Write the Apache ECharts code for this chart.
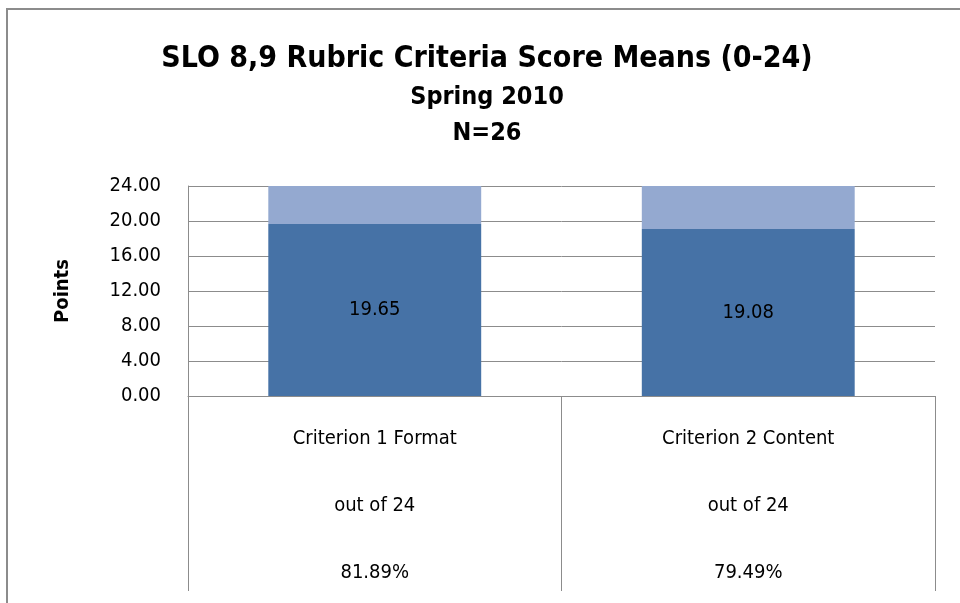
<!DOCTYPE html>
<html>
<head>
<meta charset="utf-8">
<script src="https://cdn.jsdelivr.net/npm/echarts@6/dist/echarts.min.js"></script>
<style>
  html, body { margin: 0; padding: 0; background: #fff; }
  #chart { width: 960px; height: 603px; }
</style>
</head>
<body>
<div id="chart"></div>
<script>
// data
const categories = ['Criterion 1 Format', 'Criterion 2 Content']
const subLabels = ['out of 24', 'out of 24']
const percents = ['81.89%', '79.49%']
const means = [19.65, 19.08]
const remainder = [4.35, 4.92]
const yTicks = [0, 4, 8, 12, 16, 20, 24]

const font = '"Liberation Sans Narrow", "DejaVu Sans Condensed", "Noto Sans", sans-serif'

const chart = echarts.init(document.getElementById('chart'))
chart.setOption({
  animation: false,
  textStyle: { fontFamily: font },
  graphic: [
    {
      type: 'rect',
      shape: { x: 7, y: 9, width: 980, height: 620 },
      style: { fill: 'none', stroke: '#8c8c8c', lineWidth: 2 }
    },
    {
      type: 'text',
      x: 487, y: 59,
      style: {
        text: 'SLO 8,9 Rubric Criteria Score Means (0-24)',
        font: 'bold 30px ' + font,
        fill: '#000',
        align: 'center',
        verticalAlign: 'middle'
      }
    },
    {
      type: 'text',
      x: 487, y: 97,
      style: {
        text: 'Spring 2010',
        font: 'bold 25px ' + font,
        fill: '#000',
        align: 'center',
        verticalAlign: 'middle'
      }
    },
    {
      type: 'text',
      x: 487, y: 133,
      style: {
        text: 'N=26',
        font: 'bold 25px ' + font,
        fill: '#000',
        align: 'center',
        verticalAlign: 'middle'
      }
    }
  ],
  grid: { left: 188, right: 25, top: 186, bottom: 207, outerBoundsMode: 'none', containLabel: false },
  xAxis: {
    type: 'category',
    data: categories,
    axisLine: { lineStyle: { color: '#8c8c8c', width: 1 } },
    axisTick: { show: true, length: 195, interval: 0, lineStyle: { color: '#8c8c8c' } },
    axisLabel: {
      interval: 0,
      margin: 9,
      color: '#000',
      fontSize: 20,
      lineHeight: 67,
      fontFamily: font,
      formatter: (v, i) => [v, subLabels[i], percents[i]].join('\n')
    }
  },
  yAxis: {
    type: 'value',
    min: yTicks[0],
    max: yTicks[yTicks.length - 1],
    interval: 4,
    name: 'Points',
    nameLocation: 'middle',
    nameGap: 115,
    nameTextStyle: { fontFamily: font, fontSize: 20, fontWeight: 'bold', color: '#000' },
    axisLine: { show: true, lineStyle: { color: '#8c8c8c' } },
    axisTick: { show: false },
    axisLabel: {
      color: '#000',
      fontSize: 20,
      margin: 27,
      fontFamily: font,
      formatter: v => v.toFixed(2)
    },
    splitLine: { lineStyle: { color: '#8c8c8c', width: 1 } }
  },
  series: [
    {
      type: 'bar',
      stack: 'score',
      data: means,
      barWidth: '57%',
      itemStyle: { color: '#4672A6' },
      label: {
        show: true,
        position: 'inside',
        color: '#000',
        fontSize: 20,
        fontFamily: font,
        formatter: p => p.value.toFixed(2)
      }
    },
    {
      type: 'bar',
      stack: 'score',
      data: remainder,
      barWidth: '57%',
      itemStyle: { color: '#94A9D0' }
    }
  ]
})
</script>
</body>
</html>
